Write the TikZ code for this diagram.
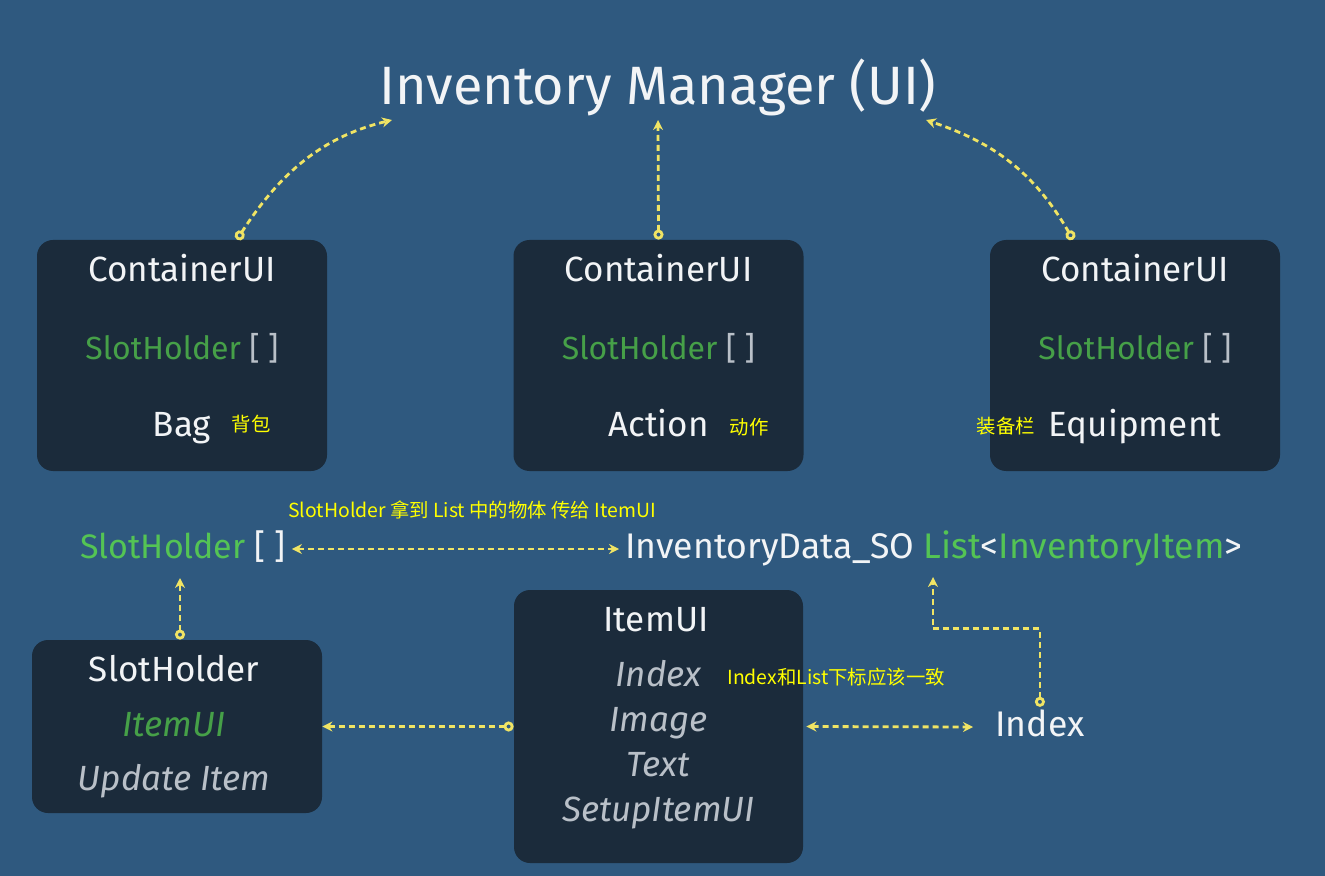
\documentclass[tikz,border=0pt]{standalone}
\usepackage{fontspec}
\setmainfont{Fira Sans}
\newfontfamily\cjk{Noto Sans CJK SC}
\usetikzlibrary{arrows.meta}
\usetikzlibrary{positioning}

\definecolor{bgblue}{RGB}{47,89,127}
\definecolor{boxdark}{RGB}{27,43,59}
\definecolor{dashyellow}{RGB}{240,228,100}
\definecolor{noteyellow}{RGB}{255,255,0}
\definecolor{codegreen}{RGB}{84,196,84}
\definecolor{dimgreen}{RGB}{70,160,72}
\definecolor{softgrey}{RGB}{185,192,200}
\definecolor{whitish}{RGB}{242,244,246}

\tikzset{
  panel/.style={fill=boxdark, rounded corners=8pt, inner sep=0pt},
  head/.style={text=whitish, font=\fontsize{17.5pt}{21pt}\selectfont, text height=0.98em, text depth=0pt},
  slots/.style={text=whitish, font=\fontsize{16pt}{19pt}\selectfont, text height=0.98em, text depth=0pt},
  member/.style={text=softgrey, font=\itshape\fontsize{17.5pt}{21pt}\selectfont, text height=0.98em, text depth=0pt},
  big/.style={text=whitish, font=\fontsize{17.8pt}{21pt}\selectfont, inner sep=0pt, text height=0.98em, text depth=0pt},
  note/.style={text=noteyellow, font=\cjk\fontsize{9.7pt}{12pt}\selectfont, inner sep=0pt},
  link/.style={draw=dashyellow, line width=1.4pt, dash pattern=on 3pt off 2pt},
  pin/.style={link, {Circle[open,length=5pt,width=5pt]}-{Stealth[length=5pt,width=5pt]}},
  both/.style={link, {Stealth[length=5pt,width=5pt]}-{Stealth[length=5pt,width=5pt]}}
}

\begin{document}
\begin{tikzpicture}[x=0.5pt,y=-0.5pt]
    \path[use as bounding box, fill=bgblue] (0,0) rectangle (1325,876);

    \node (title) [text=whitish, font=\fontsize{27pt}{32pt}\selectfont] at (658,87) {Inventory Manager (UI)};

    % containers
    \node (bag) [panel, minimum width=145pt, minimum height=115.5pt] at (182,355.5) {};
    \node (action) [panel, minimum width=145pt, minimum height=115.5pt] at (658.5,355.5) {};
    \node (equip) [panel, minimum width=145pt, minimum height=115.5pt] at (1135,355.5) {};

    \node (bagname) [head] at (182,272) {ContainerUI};
    \node (bagslots) [slots] at (182,350) {\color{dimgreen}SlotHolder \color{softgrey}[ ]};
    \node (bagtype) [head] at (182,427) {Bag};
    \node (bagnote) [note] at (251,424) {背包};

    \node (actname) [head] at (658.5,272) {ContainerUI};
    \node (actslots) [slots] at (658.5,350) {\color{dimgreen}SlotHolder \color{softgrey}[ ]};
    \node (acttype) [head] at (658.5,427) {Action};
    \node (actnote) [note] at (749,427) {动作};

    \node (eqname) [head] at (1135,272) {ContainerUI};
    \node (eqslots) [slots] at (1135,350) {\color{dimgreen}SlotHolder \color{softgrey}[ ]};
    \node (eqtype) [head] at (1135,427) {Equipment};
    \node (eqnote) [note] at (1006,426) {装备栏};

    \coordinate (tleft) at (392,120);
    \coordinate (tmid) at (658,120);
    \coordinate (tright) at (926,120);

    \path [pin] ([xshift=27.5pt]bag.north) .. controls (285,165) and (330,135) .. (tleft);
    \path [pin] (action.north) -- (tmid);
    \path [pin] ([xshift=-31pt]equip.north) .. controls (1030,165) and (985,140) .. (tright);

    % data line
    \node (slotarr) [big, font=\fontsize{17pt}{20pt}\selectfont, anchor=west] at (80,549) {\color{codegreen}SlotHolder \color{whitish}[ ]};
    \node (invdata) [big, anchor=west] at (625,549) {InventoryData\_SO \color{codegreen}List\color{whitish}<\color{codegreen}InventoryItem\color{whitish}>};
    \node (datanote) [note, anchor=west] at (288,510) {SlotHolder 拿到 List 中的物体 传给 ItemUI};
    \path [both] ([xshift=3pt]slotarr.east) -- ([xshift=-3pt]invdata.west);

    % slot holder and item ui
    \node (slot) [panel, minimum width=145pt, minimum height=86.5pt] at (177,726.5) {};
    \node (slotname) [head] at (174,672) {SlotHolder};
    \node (slotitem) [member, text=dimgreen] at (174,727) {ItemUI};
    \node (slotupd) [member] at (174,781) {Update Item};

    \node (itemui) [panel, minimum width=144.5pt, minimum height=136.5pt] at (658.5,726.5) {};
    \node (uiname) [head] at (656,622) {ItemUI};
    \node (uiindex) [member] at (658.5,677) {Index};
    \node (uiimage) [member] at (658.5,722) {Image};
    \node (uitext) [member] at (658.5,767) {Text};
    \node (uisetup) [member] at (658.5,812) {SetupItemUI};
    \node (indexnote) [note, anchor=west] at (727,677) {Index和List下标应该一致};

    \node (index) [big, anchor=west] at (995,727) {Index};

    \coordinate (slotpin) at (180,578);
    \coordinate (listpin) at (933,577);

    \path [pin] ([xshift=1.5pt]slot.north) -- (slotpin);
    \path [pin] (itemui.west) -- (slot.east);
    \path [both] ([xshift=1.5pt]itemui.east) -- ([xshift=-11pt]index.west);
    \path [pin] ([yshift=5pt]index.north) -- ++(0,-78) -| (listpin);
\end{tikzpicture}
\end{document}
